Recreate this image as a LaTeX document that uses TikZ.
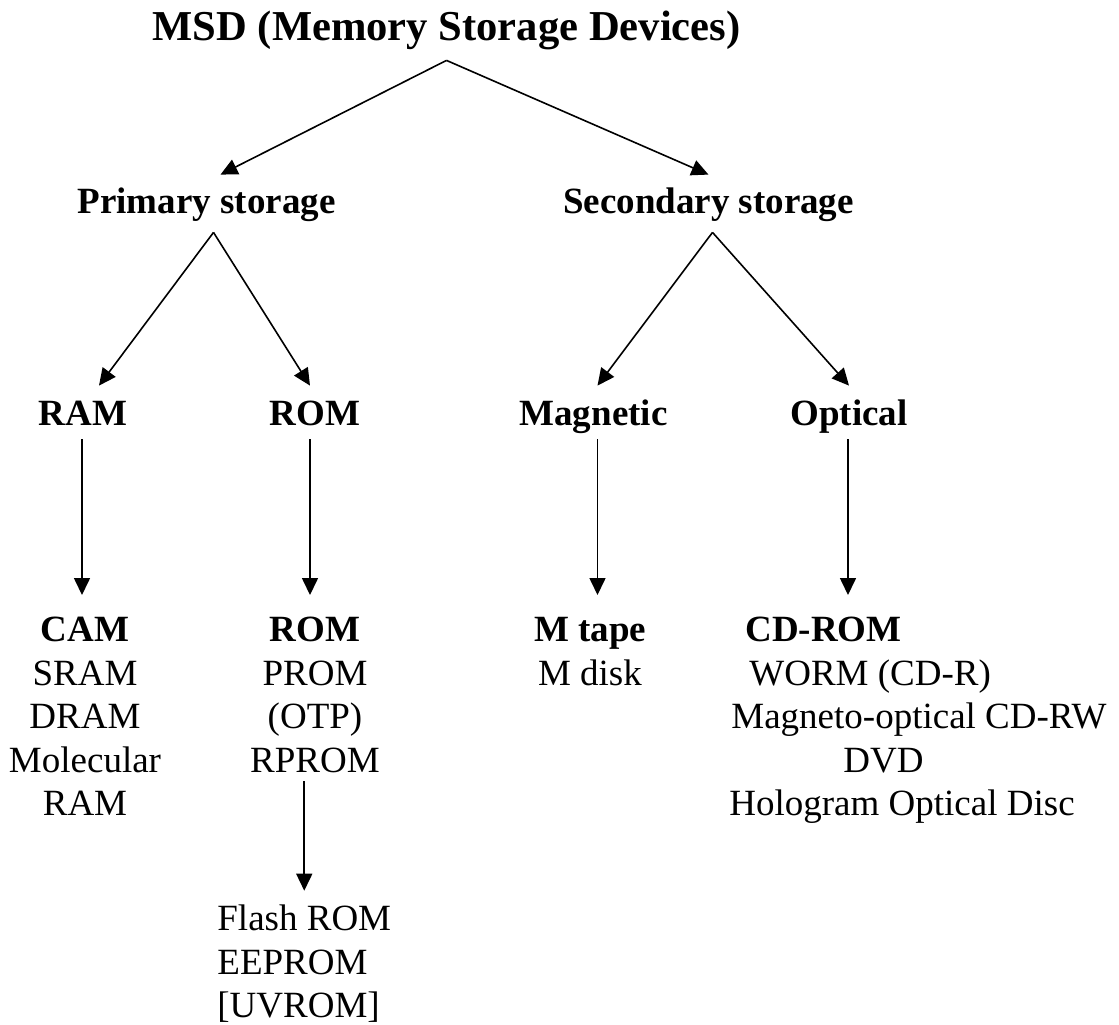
\documentclass[tikz,border=0pt]{standalone}
\usepackage{fontspec}
\setmainfont{Liberation Serif}
\usetikzlibrary{arrows.meta}

\tikzset{
  msd/.style={font={\fontsize{21.3pt}{25pt}\selectfont\bfseries}, inner sep=4pt, text depth=6pt},
  tier/.style={font={\fontsize{18.5pt}{21.75pt}\selectfont\bfseries}, inner sep=4pt, text height=15pt, text depth=5.5pt},
  kind/.style={font={\fontsize{18.5pt}{21.75pt}\selectfont\bfseries}, inner sep=4pt, text height=15.5pt, text depth=3pt},
  items/.style={font={\fontsize{18.5pt}{21.75pt}\selectfont}, inner sep=4pt},
  link/.style={-{Triangle[length=8.5pt,width=8pt]}, line width=0.8pt},
}

\begin{document}
\begin{tikzpicture}[x=0.5pt, y=-0.5pt]

\useasboundingbox (0,0) rectangle (1119,1024);

\node [msd, anchor=base] (msd) at (446.5,40){MSD (Memory Storage Devices)};

\node [tier, anchor=base] (prim) at (206.5,213){Primary storage};
\draw [link]   (msd.south) -- ([xshift=7pt]prim.north);

\node [tier, anchor=base] (sec) at (708.5,213){Secondary storage};
\draw [link]   (msd.south) -- (sec.north);



\node [kind, anchor=base] (ram) at (83,425){RAM};
\draw [link]   ([xshift=3.5pt]prim.south) -- ([xshift=8pt]ram.north);

\node [kind, anchor=base] (rom) at (315,425){ROM};
\draw [link]   ([xshift=3.5pt]prim.south) -- ([xshift=-2.5pt]rom.north);

\node [kind, anchor=base] (mag) at (593.5,425){Magnetic};
\draw [link]   ([xshift=2pt]sec.south) -- ([xshift=2pt]mag.north);

\node [kind, anchor=base] (opt) at (849,425){Optical};
\draw [link]   ([xshift=2pt]sec.south) -- (opt.north);



\node [items, anchor=north, align=center] (ram-list) at (85,609){\textbf{CAM}\\SRAM\\DRAM\\Molecular\\RAM};
\coordinate (ram-drop) at ([xshift=-0.5pt]ram.south);
\draw [link, shorten >=7pt]   (ram-drop) -- (ram-drop |- ram-list.north);

\node [items, anchor=north, align=center] (rom-list) at (315,609){\textbf{ROM}\\PROM\\(OTP)\\RPROM};
\coordinate (rom-drop) at ([xshift=-2.5pt]rom.south);
\draw [link, shorten >=7pt]   (rom-drop) -- (rom-drop |- rom-list.north);

\node [items, anchor=north, align=center] (mag-list) at (590,609){\textbf{M tape}\\M disk};
\coordinate (mag-drop) at ([xshift=2pt]mag.south);
\draw [link, shorten >=7pt]   (mag-drop) -- (mag-drop |- mag-list.north);

\node [items, anchor=north west, align=left] (opt-list) at (721,609){\hspace*{8pt}\textbf{CD-ROM}\\\hspace*{10pt}WORM (CD-R)\\\hspace*{1pt}Magneto-optical CD-RW\\\hspace*{57pt}DVD\\Hologram Optical Disc};
\coordinate (opt-drop) at ([xshift=-0.5pt]opt.south);
\draw [link, shorten >=7pt]   (opt-drop) -- (opt-drop |- opt-list.north);



\node [items, anchor=north west, align=left] (flash-list) at (209,896.7){Flash ROM\\EEPROM\\{[UVROM]}};
\draw [link, shorten >=3pt]   (flash-list.north |- rom-list.south) -- (flash-list.north);

\end{tikzpicture}
\end{document}
